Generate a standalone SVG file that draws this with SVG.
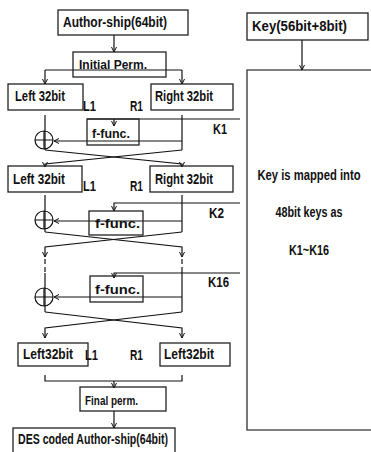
<svg xmlns="http://www.w3.org/2000/svg" width="371" height="452" viewBox="0 0 371 452">
<defs>
<marker id="arr" viewBox="0 0 6 6" refX="5.5" refY="3" markerWidth="6" markerHeight="6" markerUnits="userSpaceOnUse" orient="auto">
<path d="M0.5,0.5 L5.5,3 L0.5,5.5" fill="none" stroke="#111" stroke-width="1"/>
</marker>
</defs>
<style>
.box{fill:#fff;stroke:#222;stroke-width:1.3}
.nf{fill:none}
.big{fill:none;stroke:#555;stroke-width:1.6}
.ln{fill:none;stroke:#111;stroke-width:1.2}
.a{marker-end:url(#arr)}
.dash{fill:none;stroke:#111;stroke-width:1.2;stroke-dasharray:5 3}
text{font-family:"Liberation Sans",Arial,sans-serif;font-weight:bold;fill:#111;font-size:14px}
.s{font-size:13px}
.l{font-size:15px}
.c{text-anchor:middle}
</style>
<rect width="371" height="452" fill="#fff"/>

<g id="keybig">
<path class="big" d="M371,70 H247 V430 H371"/>
<text class="l c" transform="translate(309,180) scale(0.75,1)" x="0" y="0">Key is mapped into</text>
<text class="l c" transform="translate(309,217) scale(0.72,1)" x="0" y="0">48bit keys as</text>
<text class="l c" transform="translate(309,255) scale(0.72,1)" x="0" y="0">K1~K16</text>
</g>

<g id="connectors">
<path class="ln a" d="M114,35 V52"/>
<path class="ln a" d="M302,40 V70"/>
<path class="ln" d="M45,70 H182"/>
<path class="ln a" d="M45,70 V84"/>
<path class="ln a" d="M182,70 V84"/>
<path class="ln" d="M45,115 V150"/>
<path class="ln" d="M182,115 V150"/>
<path class="ln" d="M87,119 H240"/>
<path class="ln a" d="M114,119 V126"/>
<path class="ln a" d="M182,141 H54"/>
<path class="ln a" d="M45,150 L182,164 V167"/>
<path class="ln a" d="M182,150 L45,164 V167"/>
<path class="ln" d="M45,195 V232"/>
<path class="ln" d="M182,195 V232"/>
<path class="ln a" d="M240,203 H114 V211"/>
<path class="ln a" d="M182,221 H54"/>
<path class="ln a" d="M45,232 L182,247 V257"/>
<path class="ln a" d="M182,232 L45,247 V257"/>
<path class="dash" d="M45,259 V273"/>
<path class="dash" d="M182,259 V269"/>
<path class="ln" d="M45,273 V312"/>
<path class="ln" d="M182,269 V312"/>
<path class="ln a" d="M240,273 H114 V278"/>
<path class="ln a" d="M182,297 H54"/>
<path class="ln a" d="M45,312 L182,328 V338"/>
<path class="ln a" d="M182,312 L45,328 V338"/>
<path class="ln" d="M45,375 V381 H182 V375"/>
<path class="ln a" d="M114,381 V388"/>
<path class="ln a" d="M114,411 V428"/>
</g>

<g id="author">
<rect class="box" x="58" y="10" width="130" height="25"/>
<text class="l" x="63" y="27" textLength="104" lengthAdjust="spacingAndGlyphs">Author-ship(64bit)</text>
</g>
<g id="key">
<rect class="box" x="247" y="13" width="121" height="27"/>
<text x="252" y="31" textLength="95" lengthAdjust="spacingAndGlyphs">Key(56bit+8bit)</text>
</g>
<g id="initperm">
<rect class="box nf" x="73" y="52" width="93" height="25"/>
<text class="s" x="79" y="69" textLength="68" lengthAdjust="spacingAndGlyphs">Initial Perm.</text>
</g>

<g id="left1">
<rect class="box" x="8" y="84" width="75" height="26"/>
<text x="15" y="101" textLength="50" lengthAdjust="spacingAndGlyphs">Left 32bit</text>
</g>
<g id="right1">
<rect class="box" x="151" y="84" width="82" height="26"/>
<text x="155" y="101" textLength="58" lengthAdjust="spacingAndGlyphs">Right 32bit</text>
</g>
<g id="lab1">
<text x="83" y="111" textLength="13" lengthAdjust="spacingAndGlyphs">L1</text>
<text x="130" y="111" textLength="13" lengthAdjust="spacingAndGlyphs">R1</text>
<text x="213" y="134" textLength="14" lengthAdjust="spacingAndGlyphs">K1</text>
</g>
<g id="ffunc1">
<rect class="box nf" x="87" y="119" width="52" height="26"/>
<text class="s" x="92" y="138" textLength="38" lengthAdjust="spacingAndGlyphs">f-func.</text>
</g>
<g id="xor1">
<circle cx="44" cy="140" r="9" fill="none" stroke="#111" stroke-width="1.2"/>
<path class="ln" d="M35,140 H53 M44,131 V149"/>
</g>

<g id="left2">
<rect class="box nf" x="8" y="166" width="74" height="26"/>
<text x="13" y="184" textLength="52" lengthAdjust="spacingAndGlyphs">Left 32bit</text>
</g>
<g id="right2">
<rect class="box nf" x="150" y="166" width="83" height="26"/>
<text x="155" y="184" textLength="58" lengthAdjust="spacingAndGlyphs">Right 32bit</text>
</g>
<g id="lab2">
<text x="83" y="191" textLength="13" lengthAdjust="spacingAndGlyphs">L1</text>
<text x="130" y="191" textLength="13" lengthAdjust="spacingAndGlyphs">R1</text>
<text x="209" y="218" textLength="15" lengthAdjust="spacingAndGlyphs">K2</text>
</g>
<g id="ffunc2">
<rect class="box nf" x="89" y="211" width="54" height="24"/>
<text class="s" x="95" y="228" textLength="45" lengthAdjust="spacingAndGlyphs">f-func.</text>
</g>
<g id="xor2">
<circle cx="44" cy="220" r="9" fill="none" stroke="#111" stroke-width="1.2"/>
<path class="ln" d="M35,220 H53 M44,211 V229"/>
</g>

<g id="ffunc3">
<rect class="box nf" x="90" y="276" width="53" height="26"/>
<text class="s" x="95" y="294" textLength="45" lengthAdjust="spacingAndGlyphs">f-func.</text>
</g>
<g id="lab3">
<text x="208" y="287" textLength="21" lengthAdjust="spacingAndGlyphs">K16</text>
</g>
<g id="xor3">
<circle cx="44" cy="297" r="9" fill="none" stroke="#111" stroke-width="1.2"/>
<path class="ln" d="M35,297 H53 M44,288 V306"/>
</g>

<g id="left16">
<rect class="box" x="18" y="343" width="70" height="23"/>
<text x="23" y="359" textLength="50" lengthAdjust="spacingAndGlyphs">Left32bit</text>
</g>
<g id="right16">
<rect class="box" x="160" y="343" width="70" height="23"/>
<text x="164" y="359" textLength="50" lengthAdjust="spacingAndGlyphs">Left32bit</text>
</g>
<g id="lab16">
<text x="85" y="360" textLength="13" lengthAdjust="spacingAndGlyphs">L1</text>
<text x="130" y="360" textLength="13" lengthAdjust="spacingAndGlyphs">R1</text>
</g>
<g id="finalperm">
<rect class="box nf" x="80" y="387" width="86" height="24"/>
<text class="s" x="85" y="405" textLength="53" lengthAdjust="spacingAndGlyphs">Final perm.</text>
</g>
<g id="des">
<rect class="box" x="13" y="428" width="162" height="30"/>
<text x="18" y="444" textLength="150" lengthAdjust="spacingAndGlyphs">DES coded Author-ship(64bit)</text>
</g>
</svg>
